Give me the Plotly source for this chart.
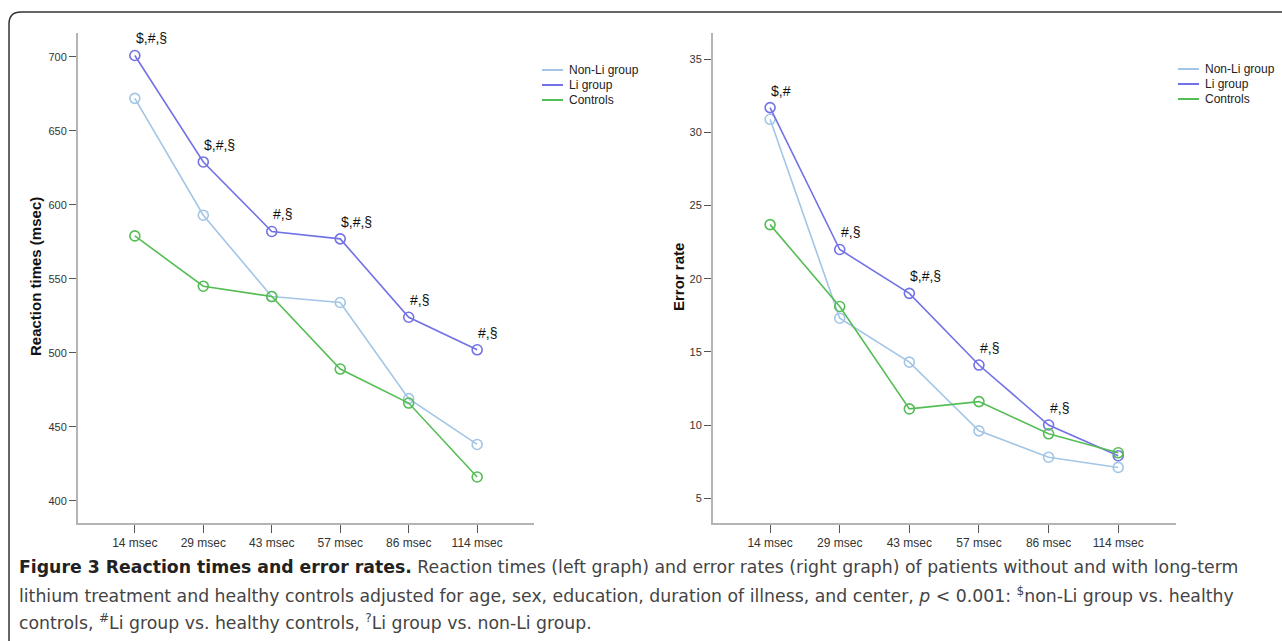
import plotly.graph_objects as go

# ---------------- data ----------------
categories = ["14 msec", "29 msec", "43 msec", "57 msec", "86 msec", "114 msec"]

rt_nonli = [672, 593, 538, 534, 469, 438]
rt_li = [701, 629, 582, 577, 524, 502]
rt_controls = [579, 545, 538, 489, 466, 416]

er_nonli = [30.9, 17.3, 14.3, 9.6, 7.8, 7.1]
er_li = [31.7, 22.0, 19.0, 14.1, 10.0, 7.9]
er_controls = [23.7, 18.1, 11.1, 11.6, 9.4, 8.1]

rt_sig = ["$,#,§", "$,#,§", "#,§", "$,#,§", "#,§", "#,§"]
er_sig = ["$,#", "#,§", "$,#,§", "#,§", "#,§", ""]

series_names = ["Non-Li group", "Li group", "Controls"]
rt_ticks = [400, 450, 500, 550, 600, 650, 700]
er_ticks = [5, 10, 15, 20, 25, 30, 35]

# ---------------- style ----------------
W, H = 1282, 641
colors = ["#a3c6e6", "#7272e6", "#55bd55"]
FONT = "Liberation Sans, Arial, sans-serif"


def px(x):
    return x / W


def py(y):
    return 1 - y / H


fig = go.Figure()

panels = [
    dict(xa="x", ya="y", series=[rt_nonli, rt_li, rt_controls], sig=rt_sig),
    dict(xa="x2", ya="y2", series=[er_nonli, er_li, er_controls], sig=er_sig),
]

for p in panels:
    for name, vals, c in zip(series_names, p["series"], colors):
        fig.add_trace(go.Scatter(
            x=categories, y=vals, mode="lines+markers", name=name,
            xaxis=p["xa"], yaxis=p["ya"], showlegend=False,
            line=dict(color=c, width=1.6),
            marker=dict(symbol="circle-open", size=10, color=c, line=dict(width=1.6)),
            hoverinfo="x+y+name",
        ))
    for cat, val, txt in zip(categories, p["series"][1], p["sig"]):
        if txt:
            fig.add_annotation(
                x=cat, y=val, xref=p["xa"], yref=p["ya"], text=txt,
                showarrow=False, xanchor="left", yanchor="bottom",
                xshift=-1, yshift=7, font=dict(family=FONT, size=14, color="#111"),
            )

axis_common = dict(
    showgrid=False, zeroline=False, showline=True, linecolor="#b4b4b4", linewidth=2,
    ticks="outside", tickcolor="#555", tickwidth=1.2,
    tickfont=dict(family=FONT, size=11, color="#333"),
)
xtickfont = dict(family=FONT, size=12, color="#333")

fig.update_layout(
    width=W, height=H,
    margin=dict(l=0, r=0, t=0, b=0),
    paper_bgcolor="white", plot_bgcolor="white",
    showlegend=False,
    xaxis=dict(domain=[px(78), px(534)], anchor="y", type="category",
               range=[-0.83, 5.83], ticklen=8, **{**axis_common, "tickfont": xtickfont}),
    yaxis=dict(domain=[py(523), py(33)], anchor="x", range=[384.9, 716.2],
               tickvals=rt_ticks, ticklen=7, **axis_common),
    xaxis2=dict(domain=[px(713), px(1176)], anchor="y2", type="category",
                range=[-0.82, 5.83], ticklen=8, **{**axis_common, "tickfont": xtickfont}),
    yaxis2=dict(domain=[py(523), py(33)], anchor="x2", range=[3.3, 36.8],
                tickvals=er_ticks, ticklen=7, **axis_common),
)

# y-axis titles
fig.add_annotation(x=px(36), y=py(277), xref="paper", yref="paper", text="<b>Reaction times (msec)</b>",
                   textangle=-90, showarrow=False, xanchor="center", yanchor="middle",
                   font=dict(family=FONT, size=15, color="#111"))
fig.add_annotation(x=px(679), y=py(277), xref="paper", yref="paper", text="<b>Error rate</b>",
                   textangle=-90, showarrow=False, xanchor="center", yanchor="middle",
                   font=dict(family=FONT, size=15, color="#111"))

# legends (line-only samples, like the original)
for lx, ly0 in [(542, 70), (1178, 69)]:
    for i, (name, c) in enumerate(zip(series_names, colors)):
        yy = ly0 + i * 15
        fig.add_shape(type="line", xref="paper", yref="paper",
                      x0=px(lx), x1=px(lx + 21), y0=py(yy), y1=py(yy),
                      line=dict(color=c, width=2))
        fig.add_annotation(x=px(lx + 25), y=py(yy), xref="paper", yref="paper", text=name,
                           showarrow=False, xanchor="left", yanchor="middle",
                           font=dict(family=FONT, size=12, color="#222"))

# figure frame
fig.add_shape(type="path", xref="paper", yref="paper",
              path=f"M {px(9)},{py(645)} L {px(9)},{py(24)} Q {px(9)},{py(12)} {px(21)},{py(12)} L {px(1290)},{py(12)}",
              line=dict(color="#333", width=1.5))

# caption
cap_font = dict(family="DejaVu Sans, sans-serif", size=17.3, color="#444")
captions = [
    "<b><span style='color:#222'>Figure 3 Reaction times and error rates.</span></b> Reaction times (left graph) and error rates (right graph) of patients without and with long-term",
    "lithium treatment and healthy controls adjusted for age, sex, education, duration of illness, and center, <i>p</i> &lt; 0.001: <sup>$</sup>non-Li group vs. healthy",
    "controls, <sup>#</sup>Li group vs. healthy controls, <sup>?</sup>Li group vs. non-Li group.",
]
for i, t in enumerate(captions):
    fig.add_annotation(x=px(17), y=py(567 + i * 27.5), xref="paper", yref="paper", text=t,
                       showarrow=False, xanchor="left", yanchor="middle", font=cap_font)

fig.write_html("out.html", config={"displayModeBar": False},
               post_script="document.body.style.margin='0';")
